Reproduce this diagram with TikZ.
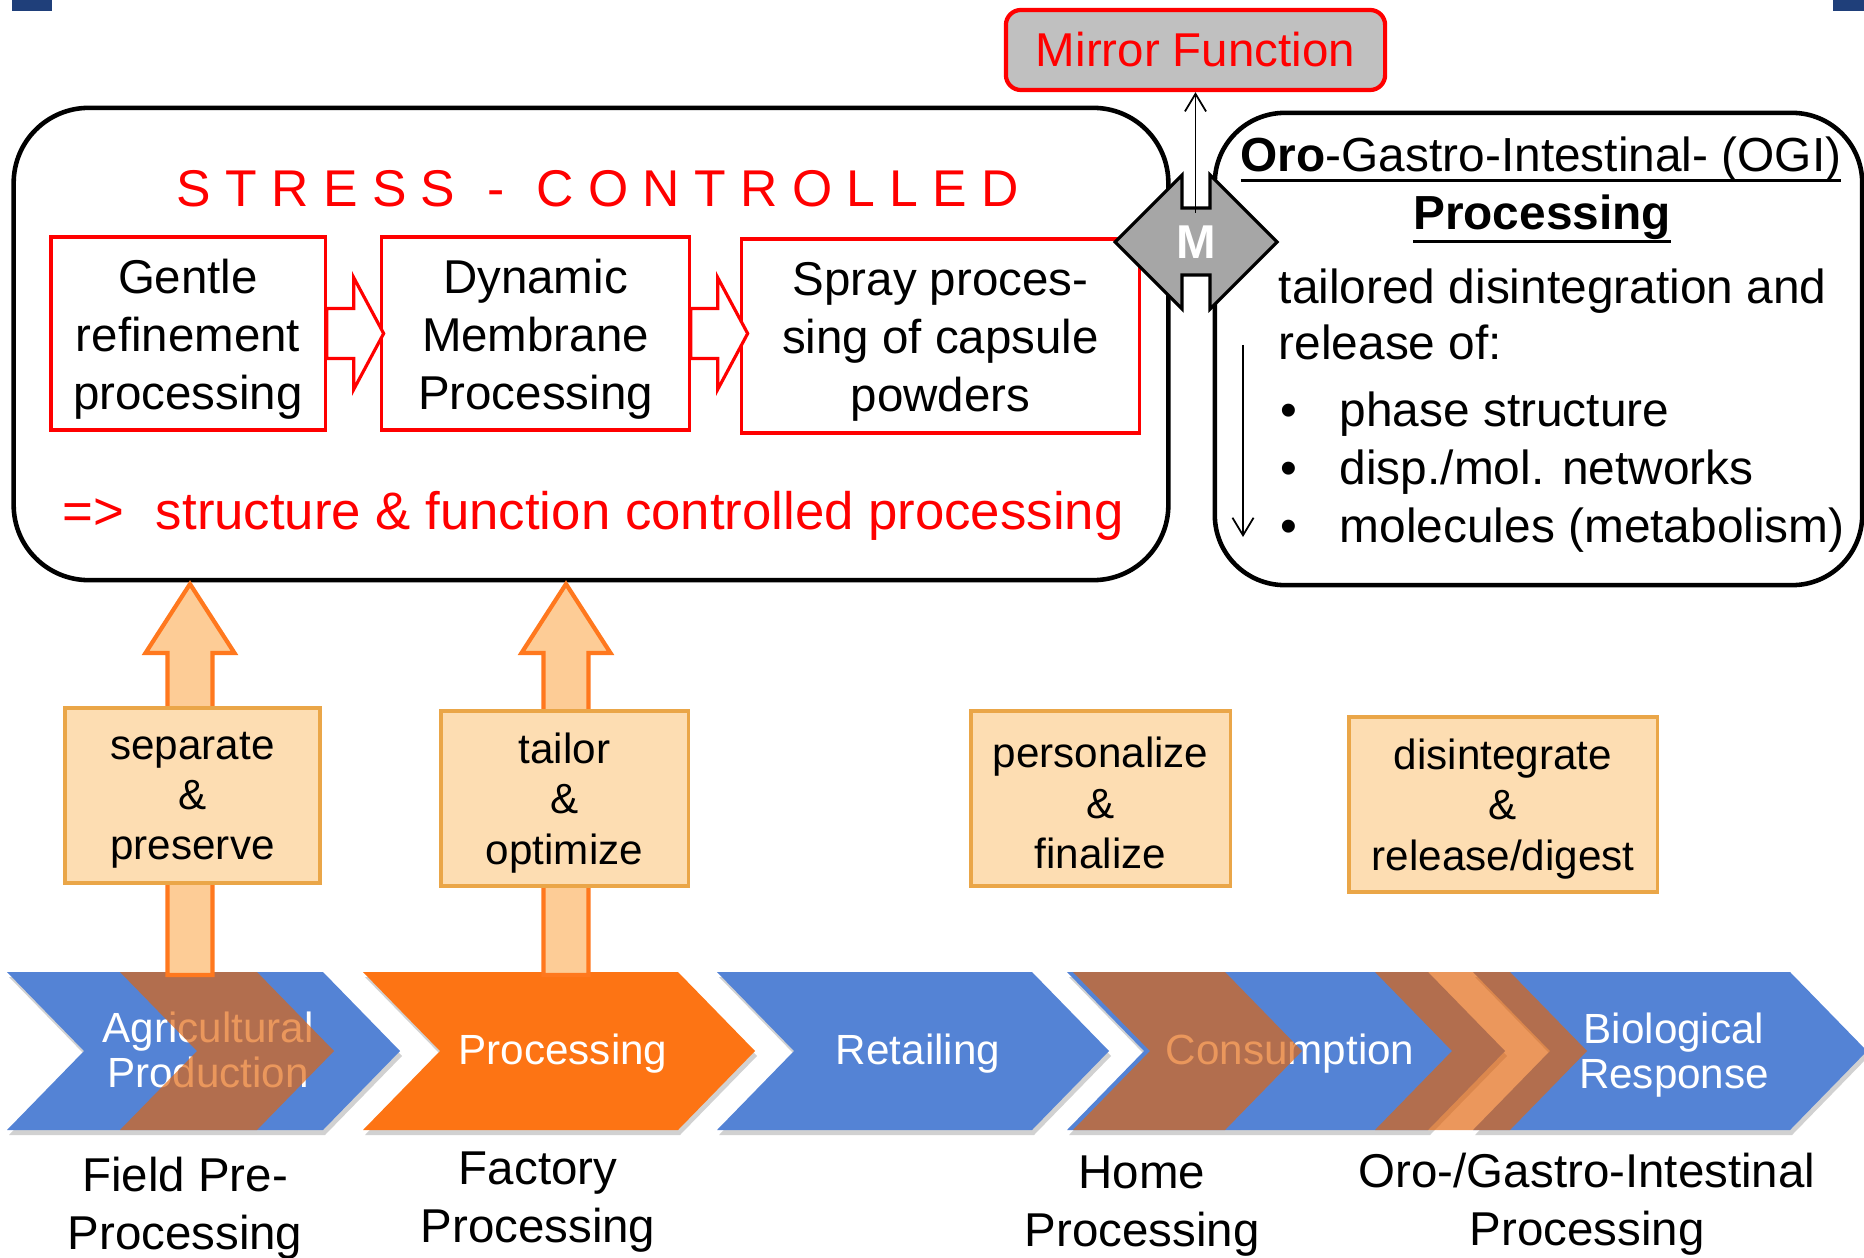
\documentclass[tikz,border=0pt]{standalone}
\usepackage{fontspec}
\setmainfont{Liberation Sans}
\usetikzlibrary{arrows.meta,calc}

\definecolor{chblue}{RGB}{84,131,213}
\definecolor{chorange}{RGB}{253,116,20}
\definecolor{bandcol}{RGB}{225,100,12}
\definecolor{arrowfill}{RGB}{253,204,150}
\definecolor{arroworange}{RGB}{255,120,30}
\definecolor{boxfill}{RGB}{253,221,178}
\definecolor{boxedge}{RGB}{234,166,72}
\definecolor{mirrorgray}{RGB}{192,192,192}
\definecolor{mgray}{RGB}{166,166,166}
\definecolor{slideblue}{RGB}{31,63,122}

\newcommand{\ogiul}[2]{\setbox0\hbox{#2}\rlap{\rule[#1]{\wd0}{0.85pt}}\box0}

\begin{document}
\begin{tikzpicture}[x=0.01cm, y=-0.01cm,
  every node/.style={inner sep=0pt, align=center},
  bigbox/.style={draw, line width=1.3pt, rounded corners=0.75cm},
  redbox/.style={draw=red, line width=0.9pt, fill=white,
    label={[font=\fontsize{13.5}{16.5}\selectfont, yshift=-1.7pt]center:#1}},
  redarrow/.style={draw=red, line width=0.9pt, fill=white},
  mirror/.style={draw=red, line width=1.2pt, fill=mirrorgray, rounded corners=0.15cm, text=red, font=\fontsize{13.5}{16.5}\selectfont},
  mdiamond/.style={draw, line width=0.9pt, fill=mgray},
  thinarrow/.style={line width=0.5pt, -{Straight Barb[length=5pt,width=6pt]}},
  ogitext/.style={font=\fontsize{13.6}{16.5}\selectfont},
  chevtext/.style={text=white, font=\fontsize{12}{12.8}\selectfont},
  uparrow/.style={draw=arroworange, fill=arrowfill, line width=1.2pt},
  stepbox/.style={draw=boxedge, fill=boxfill, line width=0.9pt,
    label={[font=\fontsize{12}{14.3}\selectfont, yshift=-1.3pt]center:#1}},
  labeltext/.style={font=\fontsize{13.5}{16.5}\selectfont}]
  \useasboundingbox (0,0) rectangle (1864,1258);

  \fill[slideblue] (12,0) rectangle (52,11);
  \fill[slideblue] (1833,0) rectangle (1864,11);

  \node[bigbox, minimum width=11.54cm, minimum height=4.72cm] (stress) at (591,344) {};
  \node[bigbox, rounded corners=0.7cm, minimum width=6.47cm, minimum height=4.72cm] (ogi) at (1538.5,349) {};

  \node[text=red, font=\fontsize{14.7}{18}\selectfont, anchor=base] (title) at (598,207)
    {S T R E S S\hspace{5pt} - \hspace{5pt}C O N T R O L L E D};
  \node[text=red, font=\fontsize{15}{18}\selectfont, anchor=base west] (result) at (62,529)
    {=>\hspace{0.6em}structure \& function controlled processing};

  \node[redbox={Gentle\\refinement\\processing}, minimum width=2.74cm, minimum height=1.93cm] (gentle) at (188,333.5) {};
  \node[redbox={Dynamic\\Membrane\\Processing}, minimum width=3.07cm, minimum height=1.93cm] (dynamic) at (535.5,333.5) {};
  \node[redbox={Spray proces-\\sing of capsule\\powders}, minimum width=3.97cm, minimum height=1.94cm] (spray) at (940.5,336) {};
  \foreach \a in {gentle, dynamic}
    \draw[redarrow] ($(\a.east)+(0,-25)$) -- ++(27,0) -- ++(0,-31) -- ++(30,56) -- ++(-30,56) -- ++(0,-31) -- ++(-27,0) -- cycle;

  \draw[mdiamond] (1115,242) -- (1182,175) -- (1182,208) -- (1210,208) -- (1210,175) -- (1277,242)
    -- (1210,309) -- (1210,275) -- (1182,275) -- (1182,309) -- cycle;
  \node[text=white, font=\bfseries\fontsize{13.5}{16}\selectfont] (m) at (1196,242) {M};
  \node[mirror, minimum width=3.79cm, minimum height=0.8cm] (mirror) at (1195.5,50) {\raisebox{0.6pt}{Mirror Function}};
  \coordinate (mtop) at (1195.5,213);
  \draw[thinarrow] (mtop) -- (mirror.south);

  \node[ogitext, anchor=base] (ogititle) at (1541,172) {\ogiul{-2.9pt}{\textbf{Oro}-Gastro-Intestinal- (OGI)}};
  \node[ogitext, font=\bfseries\fontsize{13.6}{16.5}\selectfont, anchor=base] (ogiproc) at (1542,230) {\ogiul{-3.7pt}{Processing}};
  \node[ogitext, anchor=base west] (ogia) at (1278,303.5) {tailored disintegration and};
  \node[ogitext, anchor=base west] (ogib) at (1278,360) {release of:};
  \foreach \t [count=\i] in {phase structure, disp./mol. networks, molecules (metabolism)} {
    \node[ogitext, anchor=base west] (bul\i) at (1280,368+58*\i) {\textbullet};
    \node[ogitext, anchor=base west] (item\i) at (1339,368+58*\i) {\t};
  }
  \coordinate (dtop) at (1243,345);
  \coordinate (dbot) at (1243,537);
  \draw[thinarrow] (dtop) -- (dbot);

  \foreach \l/\r in {7/323, 363/678, 717/1032, 1067/1428, 1473/1790}
    \fill[black, opacity=0.18] (\l+2,977) -- (\r+2,977) -- (\r+79,1056) -- (\r+2,1135) -- (\l+2,1135) -- (\l+79,1056) -- cycle;
  \foreach \l/\r/\c in {7/323/chblue, 363/678/chorange, 717/1032/chblue, 1067/1428/chblue, 1473/1790/chblue}
    \fill[\c] (\l,972) -- (\r,972) -- (\r+77,1051) -- (\r,1130) -- (\l,1130) -- (\l+77,1051) -- cycle;
  \node[chevtext] (agri) at (208,1050) {Agricultural\\Production};
  \node[chevtext] (proc) at (563,1054) {Processing};
  \node[chevtext] (retail) at (918,1054) {Retailing};
  \node[chevtext] (cons) at (1290,1054) {Consumption};
  \node[chevtext] (bio) at (1674,1055) {Biological\\Response};
  \foreach \l/\r in {120/257, 1073/1225, 1375/1510}
    \fill[bandcol, opacity=0.67] (\l,972) -- (\r,972) -- (\r+77,1051) -- (\r,1130) -- (\l,1130) -- (\l+77,1051) -- cycle;

  \foreach \x in {190, 566}
    \draw[uparrow] (\x-22.5,975) -- (\x-22.5,653) -- (\x-44.5,653) -- (\x,584) -- (\x+44.5,653) -- (\x+22.5,653) -- (\x+22.5,975) -- cycle;
  \node[stepbox={separate\\\&\\preserve}, minimum width=2.55cm, minimum height=1.75cm] (sep) at (192.5,795.5) {};
  \node[stepbox={tailor\\\&\\optimize}, minimum width=2.47cm, minimum height=1.75cm] (tail) at (564.5,798.5) {};
  \node[stepbox={personalize\\\&\\finalize}, minimum width=2.59cm, minimum height=1.75cm] (pers) at (1100.5,798.5) {};
  \node[stepbox={disintegrate\\\&\\release/digest}, minimum width=3.08cm, minimum height=1.75cm] (dis) at (1503,804.5) {};

  \node[labeltext] (field) at (185,1208) {Field Pre-\\Processing};
  \node[labeltext] (factory) at (538,1202) {Factory\\Processing};
  \node[labeltext] (home) at (1142,1206) {Home\\Processing};
  \node[labeltext] (ogilabel) at (1587,1204) {Oro-/Gastro-Intestinal\\Processing};
\end{tikzpicture}
\end{document}
